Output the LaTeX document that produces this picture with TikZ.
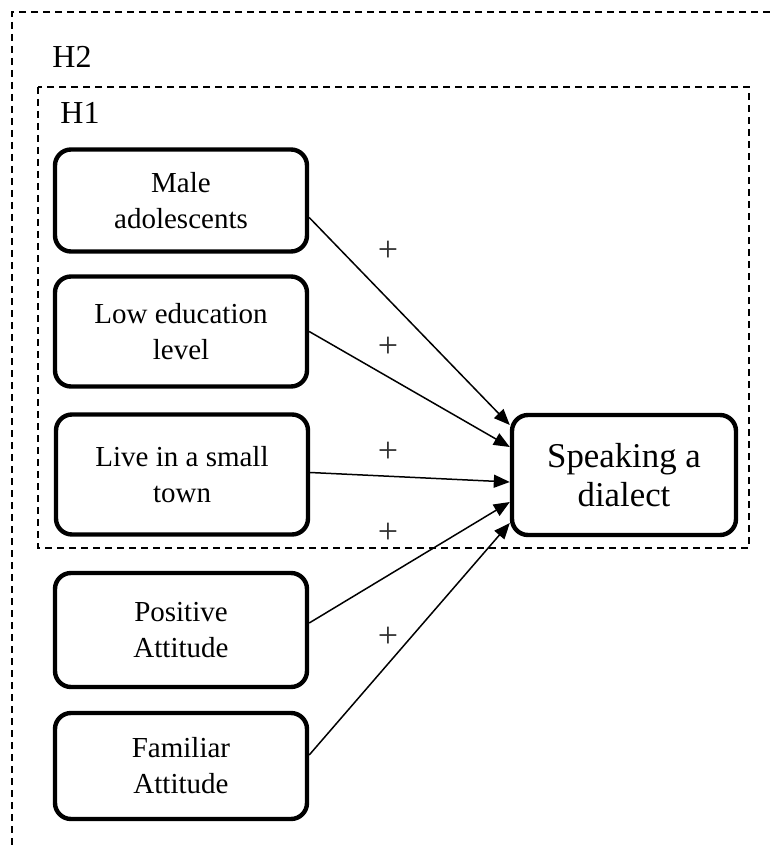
\documentclass[tikz,border=0pt]{standalone}
\usepackage{fontspec}
\setmainfont{Liberation Serif}
\usetikzlibrary{arrows.meta}
\tikzset{
  box/.style={draw, line width=2.2pt, rounded corners=8pt, align=center, minimum width=126pt, inner sep=0pt,
    font=\fontsize{14.5}{18}\selectfont},
  bigbox/.style={box, minimum width=112pt, font=\fontsize{17.4}{19.5}\selectfont},
  grp/.style={dash pattern=on 3.5pt off 2.5pt, line width=0.8pt},
  lbl/.style={font=\fontsize{16}{18}\selectfont, inner sep=0pt},
  plus/.style={font=\fontsize{18}{20}\selectfont, text=black!80, inner sep=0pt},
  conn/.style={line width=0.75pt, -{Triangle[length=8pt, width=6.5pt]}}
}
\begin{document}
\begin{tikzpicture}[x=0.5pt, y=-0.5pt]
\useasboundingbox (0,0) rectangle (770,845);
% outer group H2 (only top and left visible)
\draw[grp] (770,12) -- (12,12) -- (12,845);
\node[lbl, anchor=base west] (h2) at (52,68) {H2};
% inner group H1
\draw[grp] (38,87) rectangle (749,548);
\node[lbl, anchor=base west] (h1) at (60,124) {H1};
% nodes
\node[box, minimum height=51pt] (male) at (181,200.5) {Male\\adolescents};
\node[box, minimum height=55pt] (low) at (181,331.5) {Low education\\level};
\node[box, minimum height=60pt] (live) at (182,474.5) {Live in a small\\town};
\node[box, minimum height=57pt] (pos) at (181,630) {Positive\\Attitude};
\node[box, minimum height=53pt] (fam) at (181,766) {Familiar\\Attitude};
\node[bigbox, minimum height=60pt] (speak) at (624,475) {Speaking a\\dialect};
% connectors
\draw[conn] ([yshift=-8.5pt]male.east) -- ([yshift=25pt]speak.west);
\draw[conn] (low.east) -- ([yshift=14pt]speak.west);
\draw[conn] ([yshift=1pt]live.east) -- ([yshift=-3.5pt]speak.west);
\draw[conn] ([yshift=3.5pt]pos.east) -- ([yshift=-13.5pt]speak.west);
\draw[conn] ([yshift=5.5pt]fam.east) -- ([yshift=-24pt]speak.west);
% labels
\node[plus] (p1) at (388,251) {+};
\node[plus] (p2) at (388,347) {+};
\node[plus] (p3) at (388,452) {+};
\node[plus] (p4) at (388,533) {+};
\node[plus] (p5) at (388,637) {+};
\end{tikzpicture}
\end{document}
